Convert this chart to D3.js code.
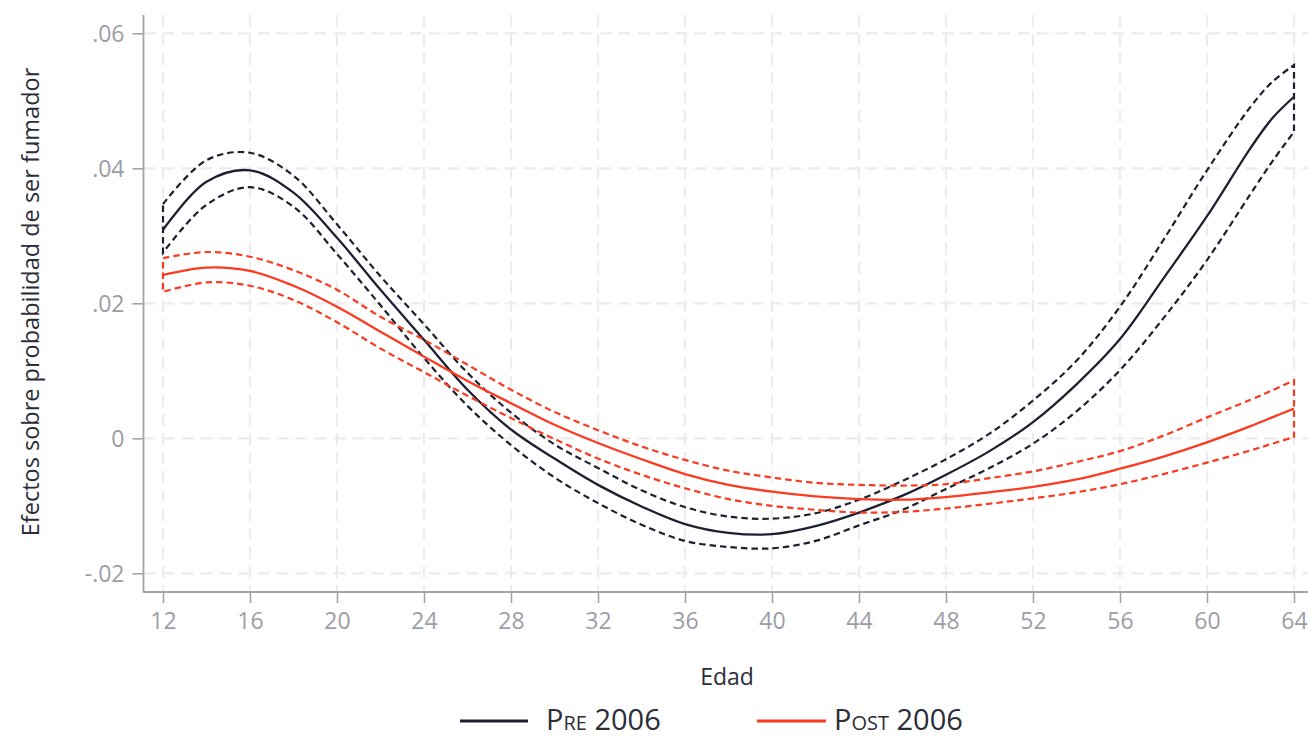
<!DOCTYPE html>
<html>
<head>
<meta charset="utf-8">
<script src="https://cdn.jsdelivr.net/npm/d3@7"></script>
<style>
  html, body { margin: 0; padding: 0; background: #ffffff; }
  svg { display: block; }
  text { font-family: "Open Sans", "Noto Sans", sans-serif; }
</style>
</head>
<body>
<svg id="chart" width="1308" height="739"></svg>
<script>
// ---- Data ----
const ages = [12,14,16,18,20,22,24,26,28,30,32,34,36,38,40,42,44,46,48,50,52,54,56,58,60,62,63,64];

const preFit   = [0.0309,0.0380,0.0397,0.0364,0.0297,0.0220,0.0146,0.0072,0.0013,-0.0030,-0.0069,-0.0101,-0.0127,-0.0140,-0.0142,-0.0130,-0.0110,-0.0085,-0.0054,-0.0019,0.0024,0.0080,0.0147,0.0237,0.0329,0.0430,0.0474,0.0506];
const preUpper = [0.0347,0.0412,0.0423,0.0389,0.0317,0.0240,0.0169,0.0097,0.0038,-0.0009,-0.0044,-0.0077,-0.0102,-0.0116,-0.0119,-0.0111,-0.0091,-0.0063,-0.0031,0.0007,0.0056,0.0115,0.0195,0.0294,0.0397,0.0491,0.0528,0.0553];
const preLower = [0.0275,0.0346,0.0372,0.0343,0.0273,0.0197,0.0119,0.0048,-0.0010,-0.0058,-0.0096,-0.0128,-0.0152,-0.0161,-0.0163,-0.0152,-0.0129,-0.0106,-0.0075,-0.0044,-0.0008,0.0040,0.0101,0.0178,0.0264,0.0362,0.0410,0.0454];

const postFit   = [0.0242,0.0253,0.0248,0.0226,0.0195,0.0158,0.0121,0.0085,0.0052,0.0020,-0.0007,-0.0031,-0.0053,-0.0069,-0.0079,-0.0086,-0.0090,-0.0091,-0.0087,-0.0080,-0.0072,-0.0061,-0.0045,-0.0027,-0.0006,0.0018,0.0031,0.0044];
const postUpper = [0.0267,0.0276,0.0269,0.0249,0.0220,0.0180,0.0146,0.0109,0.0072,0.0039,0.0012,-0.0012,-0.0032,-0.0048,-0.0058,-0.0066,-0.0069,-0.0070,-0.0068,-0.0059,-0.0049,-0.0035,-0.0019,0.0004,0.0031,0.0057,0.0071,0.0086];
const postLower = [0.0217,0.0231,0.0226,0.0205,0.0172,0.0133,0.0098,0.0063,0.0030,-0.0001,-0.0030,-0.0054,-0.0074,-0.0090,-0.0100,-0.0106,-0.0110,-0.0109,-0.0104,-0.0097,-0.0089,-0.0080,-0.0068,-0.0053,-0.0036,-0.0018,-0.0008,0.0002];

const xTicks = [12,16,20,24,28,32,36,40,44,48,52,56,60,64];
const yTicks = [-0.02, 0, 0.02, 0.04, 0.06];
const yTickLabels = ["-.02", "0", ".02", ".04", ".06"];

const seriesNames = ["Pre 2006", "Post 2006"];
const seriesColors = ["#1d2030", "#fb3a1f"];

const xLabel = "Edad";
const yLabel = "Efectos sobre probabilidad de ser fumador";

// ---- Layout ----
const svg = d3.select("#chart");
const plotLeft = 143.5, plotRight = 1308, plotTop = 15, plotBottom = 592;

const x = d3.scaleLinear().domain([12, 64]).range([163, 1294]);
const y = d3.scaleLinear().domain([-0.02, 0.06]).range([573.3, 33.3]);

const gridColor = "#ececec";
const axisColor = "#a3a3ab";
const tickLabelColor = "#9d9da7";

// grid
const grid = svg.append("g");
grid.selectAll("line.vg").data(xTicks).enter().append("line")
  .attr("x1", d => x(d)).attr("x2", d => x(d))
  .attr("y1", plotTop).attr("y2", plotBottom)
  .attr("stroke", gridColor).attr("stroke-width", 2.2)
  .attr("stroke-dasharray", "12,7");
grid.selectAll("line.hg").data(yTicks).enter().append("line")
  .attr("x1", plotLeft).attr("x2", plotRight)
  .attr("y1", d => y(d)).attr("y2", d => y(d))
  .attr("stroke", gridColor).attr("stroke-width", 2.2)
  .attr("stroke-dasharray", "12,7");

// axes
const xAxis = d3.axisBottom(x).tickValues(xTicks).tickSize(11).tickPadding(10).tickFormat(d3.format("d"));
const gx = svg.append("g").attr("transform", `translate(0,${plotBottom})`).call(xAxis);
gx.select(".domain").remove();
gx.selectAll(".tick line").attr("stroke", axisColor).attr("stroke-width", 1.6);
gx.selectAll(".tick text").attr("fill", tickLabelColor).attr("font-size", 23)
  .attr("font-family", "'Open Sans', sans-serif");

const yAxis = d3.axisLeft(y).tickValues(yTicks).tickSize(11).tickPadding(8)
  .tickFormat((d, i) => yTickLabels[i]);
const gy = svg.append("g").attr("transform", `translate(${plotLeft},0)`).call(yAxis);
gy.select(".domain").remove();
gy.selectAll(".tick line").attr("stroke", axisColor).attr("stroke-width", 1.6);
gy.selectAll(".tick text").attr("fill", tickLabelColor).attr("font-size", 23)
  .attr("font-family", "'Open Sans', sans-serif").attr("dy", "0.34em");

// axis lines
svg.append("line").attr("x1", plotLeft).attr("x2", plotLeft).attr("y1", plotTop).attr("y2", plotBottom + 0.8)
  .attr("stroke", axisColor).attr("stroke-width", 1.8);
svg.append("line").attr("x1", plotLeft).attr("x2", plotRight).attr("y1", plotBottom).attr("y2", plotBottom)
  .attr("stroke", axisColor).attr("stroke-width", 1.8);

// lines
const lineGen = d3.line().x(d => x(d[0])).y(d => y(d[1])).curve(d3.curveCatmullRom.alpha(0.5));
function zipped(vals) { return ages.map((a, i) => [a, vals[i]]); }

function drawBand(upper, lower, color) {
  const up = zipped(upper);
  const lo = zipped(lower).reverse();
  const d = lineGen(up) + lineGen(lo).replace(/^M/, "L") + "Z";
  svg.append("path").attr("d", d).attr("fill", "none")
    .attr("stroke", color).attr("stroke-width", 2.2)
    .attr("stroke-dasharray", "6.5,4");
}
function drawFit(vals, color) {
  svg.append("path").attr("d", lineGen(zipped(vals))).attr("fill", "none")
    .attr("stroke", color).attr("stroke-width", 2.3);
}

drawBand(preUpper, preLower, seriesColors[0]);
drawFit(preFit, seriesColors[0]);
drawBand(postUpper, postLower, seriesColors[1]);
drawFit(postFit, seriesColors[1]);

// axis titles
svg.append("text").attr("x", 727).attr("y", 685).attr("text-anchor", "middle")
  .attr("font-size", 23).attr("fill", "#2b2d38").text(xLabel);
svg.append("text").attr("transform", "translate(39,302) rotate(-90)").attr("text-anchor", "middle")
  .attr("font-size", 23.5).attr("fill", "#2b2d38").text(yLabel);

// legend
const legend = [
  { name: seriesNames[0], color: seriesColors[0], x1: 460, x2: 528, tx: 546 },
  { name: seriesNames[1], color: seriesColors[1], x1: 757, x2: 826, tx: 834 }
];
legend.forEach(l => {
  svg.append("line").attr("x1", l.x1).attr("x2", l.x2).attr("y1", 721).attr("y2", 721)
    .attr("stroke", l.color).attr("stroke-width", 3);
  svg.append("text").attr("x", l.tx).attr("y", 730).attr("font-size", 29)
    .attr("fill", "#2b2d38").style("font-variant", "small-caps").text(l.name);
});
</script>
</body>
</html>
